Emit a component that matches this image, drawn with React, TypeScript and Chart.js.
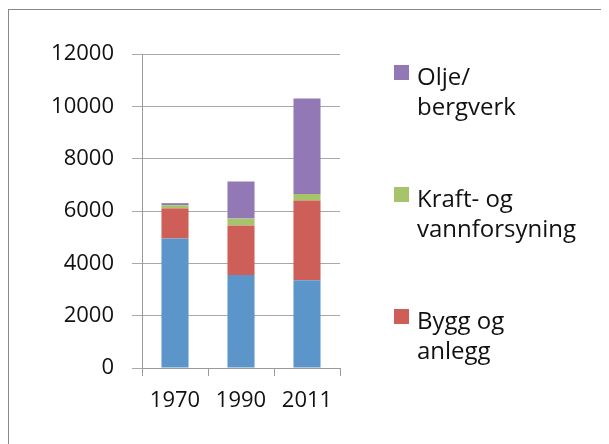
import React, { useEffect, useRef } from "react";
import { Chart, registerables } from "chart.js";

Chart.register(...registerables);

const categories = ["1970", "1990", "2011"];
const industri = [4950, 3550, 3350];
const byggOgAnlegg = [1150, 1900, 3050];
const kraftOgVann = [120, 260, 250];
const oljeBergverk = [80, 1420, 3650];

const FONT = "'Open Sans'";
const SIZE = 22;
const LEGEND_SIZE = 24;
const TEXT = "#111111";

const legendPlugin = {
  id: "sideLegend",
  afterDraw(chart: any) {
    const ctx = chart.ctx;
    const items = [
      { ds: 3, lines: ["Olje/", "bergverk"], y: 75 },
      { ds: 2, lines: ["Kraft- og", "vannforsyning"], y: 197 },
      { ds: 1, lines: ["Bygg og", "anlegg"], y: 319 },
    ];
    ctx.save();
    ctx.font = `${LEGEND_SIZE}px ${FONT}`;
    ctx.textBaseline = "alphabetic";
    ctx.textAlign = "left";
    for (const it of items) {
      const ds = chart.data.datasets[it.ds];
      ctx.fillStyle = ds.backgroundColor;
      ctx.fillRect(385, it.y - 20, 15, 15);
      ctx.fillStyle = TEXT;
      it.lines.forEach((l, i) => ctx.fillText(l, 408, it.y + i * 30));
    }
    ctx.restore();
  },
};

export default function App() {
  const ref = useRef<HTMLCanvasElement>(null);
  useEffect(() => {
    const chart = new Chart(ref.current!, {
      type: "bar",
      data: {
        labels: categories,
        datasets: [
          { label: "Industri", data: industri, backgroundColor: "#5b95c9" },
          { label: "Bygg og anlegg", data: byggOgAnlegg, backgroundColor: "#cd5f58" },
          { label: "Kraft- og vannforsyning", data: kraftOgVann, backgroundColor: "#a6c56b" },
          { label: "Olje/bergverk", data: oljeBergverk, backgroundColor: "#9279b5" },
        ],
      },
      options: {
        animation: false,
        responsive: false,
        maintainAspectRatio: false,
        layout: { padding: { left: 0, right: 269, top: 44, bottom: 0 } },
        datasets: { bar: { barPercentage: 0.41, categoryPercentage: 1 } },
        plugins: { legend: { display: false }, tooltip: { enabled: false } },
        scales: {
          x: {
            stacked: true,
            afterFit: (s: any) => { s.height = 77; },
            grid: { drawOnChartArea: false, drawTicks: true, tickLength: 8, color: "#9a9a9a", offset: true },
            border: { display: true, color: "#9a9a9a" },
            ticks: { font: { family: FONT, size: SIZE }, color: TEXT, padding: 12 },
          },
          y: {
            stacked: true,
            min: 0,
            max: 12000,
            afterFit: (s: any) => { s.width = 133; },
            grid: { color: "#a8a8a8", tickLength: 10, drawTicks: true },
            border: { display: true, color: "#9a9a9a" },
            ticks: {
              stepSize: 2000,
              font: { family: FONT, size: SIZE },
              color: TEXT,
              padding: 18,
              callback: (v: any) => String(v),
            },
          },
        },
      },
      plugins: [legendPlugin],
    });
    return () => chart.destroy();
  }, []);
  return (
    <div style={{ position: "relative", width: 601, height: 436, borderTop: "1px solid #8c8782", borderLeft: "1px solid #8c8782", boxSizing: "border-box", marginTop: 1 }}>
      <canvas ref={ref} width={600} height={435} style={{ display: "block", width: 600, height: 435 }} />
    </div>
  );
}
